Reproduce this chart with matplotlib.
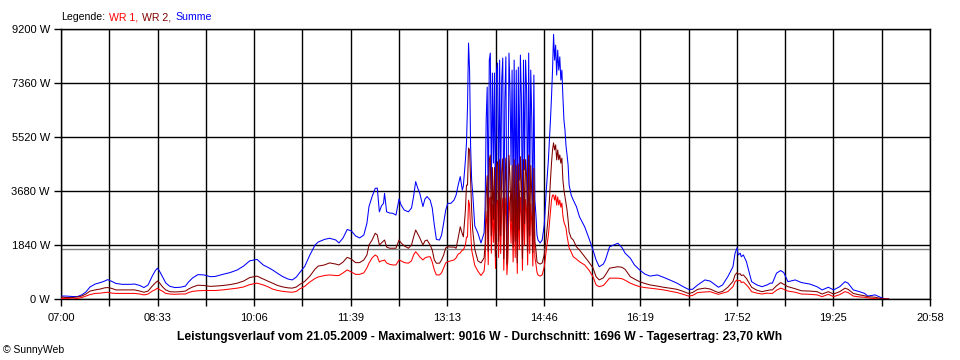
import matplotlib
matplotlib.use("Agg")
import matplotlib.pyplot as plt

plt.rcParams["font.family"] = ["Liberation Sans", "DejaVu Sans"]

# minutes after 07:00, power in W
minutes = [
    0, 5, 11, 16, 20, 24, 28, 33, 38, 42, 45, 49, 53, 59, 67, 71, 76, 80, 84, 88,
    91, 93, 95, 98, 101, 105, 110, 115, 120, 123, 127, 132, 138, 144, 149, 156, 163, 170, 176, 182,
    189, 195, 200, 204, 209, 214, 219, 223, 227, 230, 235, 240, 245, 248, 254, 259, 265, 268, 272, 276,
    280, 284, 288, 292, 295, 297, 300, 303, 305, 307, 309, 311, 312, 314, 317, 320, 323, 326, 328, 331,
    335, 338, 340, 342, 344, 346, 349, 351, 353, 356, 358, 360, 362, 365, 367, 369, 371, 373, 376, 379,
    381, 383, 385, 387, 388, 390, 391, 392, 393, 394, 395, 396, 397, 399, 402, 405, 408,
    409, 410, 411, 412, 413, 414, 415, 416, 417, 418, 419, 420, 421, 422, 423, 424, 425, 426, 427, 428,
    429, 430, 431, 432, 433, 434, 435, 436, 437, 438, 439, 440, 441, 442, 443, 444, 445, 446, 447, 448,
    449, 450, 451, 452, 453, 454, 455, 456, 457, 458, 459,
    460, 462, 464, 466, 468, 470, 471, 472, 473, 474, 475, 476, 477, 478, 479, 480, 481, 482, 483, 484,
    485, 486, 487, 488, 489, 490, 492, 494, 497, 500, 505, 509, 513, 516, 519, 523, 525, 529, 537, 541,
    544, 549, 553, 558, 563, 568, 575, 581, 587, 594, 600, 605, 609, 614, 621, 626, 631, 634, 638, 643,
    648, 650, 652, 653, 655, 656, 658, 661, 663, 666, 671, 676, 681, 684, 686, 690, 694, 697, 701, 708,
    714, 722, 729, 734, 740, 745, 751, 756, 759, 764, 770, 775, 778, 785, 790, 795, 798,
]

summe = [
    100, 100, 85, 85, 140, 240, 410, 510, 560, 610, 660, 600, 530, 500, 500, 510, 460, 390, 480, 780,
    970, 1050, 950, 750, 550, 430, 390, 400, 440, 580, 720, 830, 820, 760, 770, 840, 900, 990, 1120, 1300,
    1350, 1160, 1070, 990, 870, 760, 680, 650, 750, 890, 1110, 1500, 1840, 1940, 2030, 2070, 2010, 1910, 2080, 2370,
    2320, 2150, 2080, 2180, 2580, 3150, 3490, 3770, 3780, 2970, 3170, 3260, 3600, 2970, 2930, 2920, 2860, 3410, 3200, 3030,
    2970, 3100, 3490, 4000, 3780, 3600, 3150, 3410, 3490, 3370, 3100, 2520, 2030, 2010, 2180, 2590, 3030, 3260, 3260, 3370,
    3540, 3880, 4170, 3710, 3850, 4740, 5310, 6540, 8720, 7800, 5210, 4050, 3610, 2490, 2250, 1910, 2250,
    3170, 6100, 7220, 2790, 8140, 8380, 3710, 7700, 4630, 7700, 2490, 7800, 8040, 3370, 8140, 3710, 7460, 8210, 2350, 6780,
    8250, 2000, 3370, 8380, 7120, 4570, 7800, 3030, 8140, 3370, 7800, 2100, 7900, 4050, 8310, 6780, 2350, 8140, 4400, 8140,
    7120, 2790, 8380, 3710, 7800, 6100, 2690, 7630, 3370, 2860, 2180,
    2010, 1910, 2010, 2520, 3710, 4740, 5420, 6100, 6880, 7800, 9016, 8140, 8650, 7630, 8480, 7800, 8250, 7460, 7800, 6880,
    6100, 5760, 5210, 4910, 4570, 3880, 3540, 3370, 3150, 2800, 2460, 2080, 1670, 1330, 1100, 1190, 1330, 1780, 1900, 1750,
    1560, 1390, 1160, 990, 850, 780, 820, 740, 650, 540, 420, 330, 330, 480, 650, 610, 480, 400, 480, 760,
    1100, 1560, 1750, 1500, 1560, 1440, 1500, 1270, 990, 590, 480, 420, 480, 540, 540, 880, 970, 900, 590, 650,
    560, 510, 420, 310, 400, 310, 420, 590, 540, 310, 250, 190, 100, 140, 60, 0, 0,
]

wr2 = [
    70, 50, 50, 70, 100, 170, 270, 310, 340, 380, 390, 360, 310, 310, 310, 310, 270, 230, 270, 440,
    550, 610, 550, 410, 310, 250, 240, 250, 270, 340, 410, 470, 460, 430, 440, 460, 490, 540, 610, 730,
    780, 680, 600, 540, 460, 410, 380, 370, 410, 490, 600, 780, 1020, 1120, 1160, 1230, 1190, 1160, 1260, 1420,
    1360, 1240, 1240, 1330, 1500, 1840, 2010, 2240, 2180, 1840, 1910, 1980, 2010, 1770, 1730, 1730, 1730, 2010, 1910, 1810,
    1730, 1840, 2110, 2350, 2220, 2080, 1840, 1980, 2010, 1840, 1670, 1330, 1220, 1220, 1330, 1500, 1740, 1780, 1770, 1770,
    1730, 2080, 2460, 2220, 2120, 3030, 3880, 3880, 5140, 5080, 4050, 3030, 2350, 1700, 1300, 1230, 1400,
    1850, 3550, 4200, 1620, 4750, 4900, 2150, 4480, 2700, 4480, 1450, 4550, 4680, 1960, 4750, 2160, 4350, 4780, 1370, 3950,
    4800, 1180, 1960, 4900, 4150, 2650, 4550, 1770, 4750, 1960, 4550, 1230, 4600, 2360, 4850, 3950, 1370, 4750, 2560, 4750,
    4150, 1630, 4900, 2160, 4550, 3550, 1570, 4450, 1960, 1670, 1270,
    1230, 1190, 1230, 1500, 2120, 2860, 3370, 4050, 4630, 5080, 5320, 5080, 5250, 4740, 5080, 4740, 4910, 4630, 4800, 4050,
    3710, 3480, 3270, 3030, 2690, 2280, 2080, 2010, 1780, 1670, 1440, 1260, 1060, 760, 650, 720, 820, 1050, 1100, 1080,
    1010, 760, 680, 590, 530, 480, 440, 400, 370, 330, 260, 190, 220, 330, 370, 340, 260, 220, 260, 400,
    600, 820, 900, 850, 860, 800, 820, 700, 580, 400, 300, 250, 290, 310, 310, 450, 560, 500, 420, 350,
    280, 270, 250, 170, 250, 170, 250, 370, 330, 190, 140, 110, 80, 60, 20, 0, 0,
]

wr1 = [
    20, 20, 0, 20, 50, 100, 150, 190, 200, 220, 230, 200, 190, 190, 190, 190, 170, 140, 170, 270,
    320, 370, 320, 260, 190, 170, 160, 170, 170, 220, 260, 280, 290, 290, 290, 310, 340, 370, 410, 490,
    540, 480, 410, 340, 290, 260, 240, 230, 260, 340, 430, 580, 700, 750, 800, 820, 800, 800, 890, 990,
    920, 840, 840, 890, 1060, 1220, 1400, 1500, 1450, 1260, 1300, 1310, 1330, 1230, 1180, 1160, 1160, 1330, 1300, 1240,
    1220, 1300, 1500, 1610, 1530, 1430, 1330, 1400, 1430, 1440, 1260, 990, 820, 820, 890, 1060, 1230, 1270, 1300, 1330,
    1400, 1530, 1570, 1670, 1670, 1840, 2110, 2110, 3370, 3200, 2350, 1670, 1500, 1150, 950, 800, 950,
    1320, 2550, 3000, 1170, 3400, 3480, 1560, 3220, 1930, 3220, 1040, 3250, 3360, 1410, 3390, 1550, 3110, 3430, 980, 2830,
    3440, 830, 1410, 3480, 2970, 1900, 3250, 1260, 3390, 1410, 3250, 870, 3300, 1690, 3460, 2830, 980, 3390, 1830, 3390,
    2970, 1160, 3480, 1550, 3250, 2550, 1120, 3180, 1410, 1190, 910,
    820, 780, 820, 1090, 1670, 2180, 2590, 3030, 3370, 3540, 3540, 3370, 3540, 3200, 3480, 3200, 3370, 3130, 3270, 2830,
    2620, 2520, 2420, 2150, 1940, 1740, 1600, 1440, 1360, 1270, 1160, 990, 760, 480, 420, 460, 540, 710, 710, 690,
    640, 540, 480, 420, 390, 370, 340, 310, 270, 220, 160, 100, 120, 220, 240, 250, 190, 160, 200, 250,
    420, 590, 650, 620, 630, 560, 580, 480, 400, 250, 200, 170, 200, 190, 190, 300, 370, 330, 270, 230,
    170, 160, 140, 80, 160, 80, 150, 250, 220, 100, 70, 60, 40, 10, 0, 0, 0,
]

x_labels = ["07:00", "08:33", "10:06", "11:39", "13:13", "14:46", "16:19", "17:52", "19:25", "20:58"]
y_ticks = [0, 1840, 3680, 5520, 7360, 9200]
average = 1696

fig = plt.figure(figsize=(9.6, 3.6), dpi=100)
ax = fig.add_axes([61 / 960, 1 - 299 / 360, 869 / 960, 270 / 360])

ax.plot(minutes, summe, color="#0000ff", lw=0.75, zorder=3)
ax.plot(minutes, wr1, color="#ff0000", lw=0.75, zorder=4)
ax.plot(minutes, wr2, color="#800000", lw=0.75, zorder=5)
ax.axhline(average, color="#808080", lw=1, zorder=2)

ax.set_xlim(0, 838)
ax.set_ylim(0, 9200)

major = [i * 838 / 9 for i in range(10)]
minor = [(i + 0.5) * 838 / 9 for i in range(9)]
ax.set_xticks(major)
ax.set_xticklabels(x_labels)
ax.set_xticks(minor, minor=True)
ax.set_yticks(y_ticks)
ax.set_yticklabels([f"{v} W" for v in y_ticks])

ax.set_axisbelow(True)
ax.grid(True, which="both", axis="x", color="black", lw=1)
ax.grid(True, which="major", axis="y", color="black", lw=1)
ax.tick_params(which="both", length=5, width=1, color="black", labelsize=8)
ax.tick_params(axis="x", pad=5)
ax.tick_params(axis="y", pad=3)
for s in ax.spines.values():
    s.set_color("black")
    s.set_linewidth(1)

# legend line at the top, pieces chained one after another
y_leg = 1 - 17 / 360
prev = fig.text(61 / 960, y_leg, "Legende:", color="black", fontsize=7.6, va="center")
for label, col in [("WR 1,", "#ff0000"), ("WR 2,", "#800000"), ("Summe", "#0000ff")]:
    prev = ax.annotate(label, xy=(1, 0.5), xycoords=prev, xytext=(3, 0),
                       textcoords="offset points", va="center", ha="left",
                       color=col, fontsize=7.6, annotation_clip=False)

fig.text(0.5, 1 - 337 / 360,
         "Leistungsverlauf vom 21.05.2009 - Maximalwert: 9016 W - Durchschnitt: 1696 W - Tagesertrag: 23,70 kWh",
         fontsize=8.7, fontweight="bold", ha="center", va="center")
fig.text(3 / 960, 1 - 350 / 360, "© SunnyWeb", fontsize=7.5, va="center")

fig.savefig("out.png", dpi=100)
